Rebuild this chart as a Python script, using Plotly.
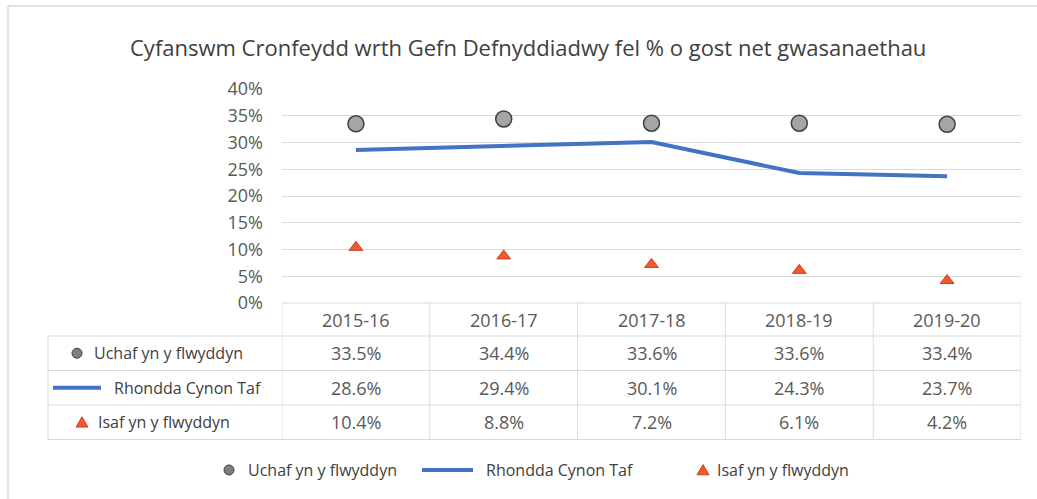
import plotly.graph_objects as go

# ---- data ----
categories = ["2015-16", "2016-17", "2017-18", "2018-19", "2019-20"]
uchaf = [33.5, 34.4, 33.6, 33.6, 33.4]
rhondda = [28.6, 29.4, 30.1, 24.3, 23.7]
isaf = [10.4, 8.8, 7.2, 6.1, 4.2]
series_names = ["Uchaf yn y flwyddyn", "Rhondda Cynon Taf", "Isaf yn y flwyddyn"]
title_text = "Cyfanswm Cronfeydd wrth Gefn Defnyddiadwy fel % o gost net gwasanaethau"

W, H = 1037, 499
def px(x):
    return x / W
def py(y):
    return 1 - y / H

FONT = "Open Sans"
GRAY_TXT = "#595959"
GRID = "#D9D9D9"
BLUE = "#4472C4"
CIRC_FILL = "#A5A5A5"
CIRC_LINE = "#404040"
TRI_FILL = "#EE5A2C"
TRI_LINE = "#D23E1E"

# plot area pixels
PL, PR, PT, PB = 282, 1021, 89, 303
# table rows (pixel y boundaries)
row_edges = [303, 336, 370.5, 405, 439.5]
label_left = 48

fig = go.Figure()
fig.add_trace(go.Scatter(x=list(range(len(categories))), y=rhondda, mode="lines",
                         line=dict(color=BLUE, width=4), name=series_names[1],
                         showlegend=False))
fig.add_trace(go.Scatter(x=list(range(len(categories))), y=uchaf, mode="markers",
                         marker=dict(symbol="circle", size=16, color=CIRC_FILL,
                                     line=dict(color=CIRC_LINE, width=1.5)),
                         name=series_names[0], showlegend=False))
fig.add_trace(go.Scatter(x=list(range(len(categories))), y=isaf, mode="markers",
                         marker=dict(symbol="triangle-up", size=12, color=TRI_FILL,
                                     line=dict(color=TRI_LINE, width=1)),
                         name=series_names[2], showlegend=False))

shapes = []
annotations = []

# outer frame (top and left)
shapes.append(dict(type="line", xref="paper", yref="paper", x0=px(8), x1=1, y0=py(6), y1=py(6),
                   line=dict(color="#D9D9D9", width=1.5)))
shapes.append(dict(type="line", xref="paper", yref="paper", x0=px(8), x1=px(8), y0=py(6), y1=0,
                   line=dict(color="#D9D9D9", width=1.5)))

# table grid
TB = dict(color=GRID, width=1)
shapes.append(dict(type="line", xref="paper", yref="paper", x0=px(PL), x1=px(PR),
                   y0=py(row_edges[0]), y1=py(row_edges[0]), line=TB))
for ye in row_edges[1:]:
    shapes.append(dict(type="line", xref="paper", yref="paper", x0=px(label_left), x1=px(PR),
                       y0=py(ye), y1=py(ye), line=TB))
shapes.append(dict(type="line", xref="paper", yref="paper", x0=px(label_left), x1=px(label_left),
                   y0=py(row_edges[1]), y1=py(row_edges[-1]), line=TB))
for i in range(len(categories) + 1):
    xb = i - 0.5
    shapes.append(dict(type="line", xref="x", yref="paper", x0=xb, x1=xb,
                       y0=py(row_edges[0]), y1=py(row_edges[-1]), line=TB))

def row_mid(i):
    return py((row_edges[i] + row_edges[i + 1]) / 2)

cell_font = dict(family=FONT, size=18, color=GRAY_TXT)
for i, c in enumerate(categories):
    annotations.append(dict(x=i, y=row_mid(0), xref="x", yref="paper", text=c, showarrow=False,
                            xanchor="center", yanchor="middle", font=cell_font))
for r, vals in enumerate([uchaf, rhondda, isaf]):
    for i, v in enumerate(vals):
        annotations.append(dict(x=i, y=row_mid(r + 1), xref="x", yref="paper", text=f"{v:.1f}%",
                                showarrow=False, xanchor="center", yanchor="middle", font=cell_font))

def circle_sym(xc, yc, r):
    return dict(type="circle", xref="paper", yref="paper", xsizemode="pixel", ysizemode="pixel",
                xanchor=px(xc), yanchor=py(yc), x0=-r, x1=r, y0=-r, y1=r,
                fillcolor="#7F7F7F", line=dict(color=CIRC_LINE, width=1))

def tri_sym(xc, yc, s):
    return dict(type="path", xref="paper", yref="paper", xsizemode="pixel", ysizemode="pixel",
                xanchor=px(xc), yanchor=py(yc),
                path=f"M {-s},{-s*0.8} L {s},{-s*0.8} L 0,{s*0.9} Z",
                fillcolor=TRI_FILL, line=dict(color=TRI_LINE, width=1))

def line_sym(x0, x1, yc):
    return dict(type="line", xref="paper", yref="paper", x0=px(x0), x1=px(x1), y0=py(yc), y1=py(yc),
                line=dict(color=BLUE, width=4))

lab_font = dict(family=FONT, size=16, color="#404040")

def label(xl, yc, text):
    return dict(x=px(xl), y=py(yc), xref="paper", yref="paper", xanchor="left", yanchor="middle",
                text=text, showarrow=False, font=lab_font)

r1 = (row_edges[1] + row_edges[2]) / 2
r2 = (row_edges[2] + row_edges[3]) / 2
r3 = (row_edges[3] + row_edges[4]) / 2
shapes.append(circle_sym(77, r1, 5))
annotations.append(label(92, r1, series_names[0]))
shapes.append(line_sym(53, 101, r2))
annotations.append(label(112, r2, series_names[1]))
shapes.append(tri_sym(82, r3, 6))
annotations.append(label(96, r3, series_names[2]))

LY = 470
shapes.append(circle_sym(229, LY, 5))
annotations.append(label(246, LY, series_names[0]))
shapes.append(line_sym(422, 473, LY))
annotations.append(label(484, LY, series_names[1]))
shapes.append(tri_sym(703, LY, 6))
annotations.append(label(715, LY, series_names[2]))

annotations.append(dict(x=px(528), y=py(47), xref="paper", yref="paper", text=title_text,
                        xanchor="center", yanchor="middle", showarrow=False,
                        font=dict(family=FONT, size=22, color="#404040")))

fig.update_layout(
    width=W, height=H,
    margin=dict(l=0, r=0, t=0, b=0, pad=0, autoexpand=False),
    paper_bgcolor="white", plot_bgcolor="white",
    showlegend=False,
    xaxis=dict(domain=[px(PL), px(PR)], range=[-0.5, len(categories) - 0.5], automargin=False,
               showgrid=False, zeroline=False, showticklabels=False, showline=False),
    yaxis=dict(domain=[py(PB), py(PT)], range=[0, 40], dtick=5, ticksuffix="%", automargin=False,
               showgrid=True, gridcolor=GRID, gridwidth=1, zeroline=False, showline=False,
               ticks="", ticklabelstandoff=18,
               tickfont=dict(family=FONT, size=18, color=GRAY_TXT)),
    shapes=shapes,
    annotations=annotations,
)

fig.write_html("out.html", config={"displayModeBar": False},
               post_script="document.body.style.margin='0';document.body.style.overflow='hidden';")
